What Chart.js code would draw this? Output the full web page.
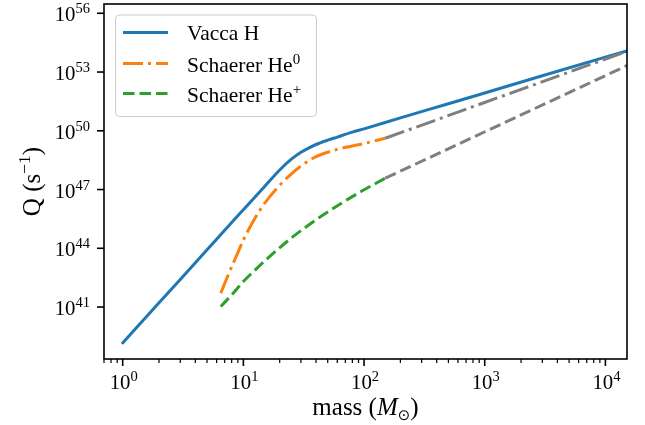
<!DOCTYPE html>
<html>
<head>
<meta charset="utf-8">
<script src="https://cdn.jsdelivr.net/npm/chart.js@4.4.0/dist/chart.umd.min.js"></script>
<style>
  html, body { margin: 0; padding: 0; background: #fff; }
  #wrap { width: 645px; height: 425px; }
</style>
</head>
<body>
<div id="wrap"><canvas id="chart" width="645" height="425"></canvas></div>
<script>
// values, Q kept as log10(Q)
var massVacca = [1, 2, 3, 5, 7, 10, 15, 20, 25, 30, 35, 40, 50, 60, 80, 100, 200, 500, 1000, 3000, 10000, 15100];
var logQVacca = [39.17, 41.22, 42.41, 43.92, 44.92, 45.97, 47.16, 48.0, 48.55, 48.9, 49.13, 49.3, 49.52, 49.68, 49.93, 50.1, 50.66, 51.38, 51.93, 52.81, 53.76, 54.08];

var massHe0 = [6.5, 7.5, 9, 10, 12, 15, 20, 25, 30, 40, 60, 100, 150];
var logQHe0 = [41.71, 42.65, 43.78, 44.42, 45.35, 46.3, 47.22, 47.8, 48.2, 48.68, 49.05, 49.35, 49.62];

var massHeP = [6.5, 8, 10, 13, 17, 25, 32, 45, 65, 95, 150];
var logQHeP = [41.03, 41.62, 42.3, 42.99, 43.65, 44.53, 45.03, 45.67, 46.3, 46.91, 47.58];

// grey extensions past 150 Msun
var massExt = [150, 15100];
var logQExtHe0 = [49.62, 54.06];
var logQExtHeP = [47.58, 53.33];

var seriesNames = ['Vacca H', 'Schaerer He', 'Schaerer He'];
var seriesSup = ['', '0', '+'];

var xTickExps = [0, 1, 2, 3, 4];
var yTickExps = [41, 44, 47, 50, 53, 56];

var BLUE = '#1f77b4', ORANGE = '#ff7f0e', GREEN = '#2ca02c', GREY = '#7f7f7f';
var DASHDOT = [20, 5, 3, 5];
var DASHED = [11.5, 5];
var F = '20.8px "Liberation Serif"';
var FS = '14.5px "Liberation Serif"';
var FL = '21.5px "Liberation Serif"';
var FLS = '15px "Liberation Serif"';
var FT = '25px "Liberation Serif"';
var FTS = '17.5px "Liberation Serif"';

function pts(m, q) {
  return m.map(function (v, i) { return { x: v, y: Math.pow(10, q[i]) }; });
}

function drawPieces(ctx, pieces, x, y, align) {
  var total = 0;
  pieces.forEach(function (p) { ctx.font = p[1]; total += ctx.measureText(p[0]).width; });
  var cx = align === 'right' ? x - total : (align === 'center' ? x - total / 2 : x);
  pieces.forEach(function (p) {
    ctx.font = p[1];
    ctx.fillText(p[0], cx, y + p[2]);
    cx += ctx.measureText(p[0]).width;
  });
}

var axesPlugin = {
  id: 'axesPlugin',
  afterDatasetsDraw: function (chart) {
    var ctx = chart.ctx, a = chart.chartArea;
    var xs = chart.scales.x, ys = chart.scales.y;
    ctx.save();
    ctx.fillStyle = '#000';
    ctx.strokeStyle = '#000';
    ctx.textAlign = 'left';
    ctx.textBaseline = 'alphabetic';

    // frame
    ctx.lineWidth = 1.6;
    ctx.strokeRect(a.left, a.top, a.right - a.left, a.bottom - a.top);

    // x ticks
    xTickExps.forEach(function (e) {
      var px = xs.getPixelForValue(Math.pow(10, e));
      ctx.lineWidth = 1.6;
      ctx.beginPath(); ctx.moveTo(px, a.bottom); ctx.lineTo(px, a.bottom + 7); ctx.stroke();
      drawPieces(ctx, [['10', F, 0], [String(e), FS, -8]], px + 1, a.bottom + 30, 'center');
    });
    ctx.lineWidth = 1.2;
    for (var d = -1; d <= 4; d++) {
      for (var k = 2; k <= 9; k++) {
        var v = k * Math.pow(10, d);
        if (v < xs.min || v > xs.max) continue;
        var px = xs.getPixelForValue(v);
        ctx.beginPath(); ctx.moveTo(px, a.bottom); ctx.lineTo(px, a.bottom + 4); ctx.stroke();
      }
    }

    // y ticks
    yTickExps.forEach(function (e) {
      var py = ys.getPixelForValue(Math.pow(10, e));
      ctx.lineWidth = 1.6;
      ctx.beginPath(); ctx.moveTo(a.left - 7, py); ctx.lineTo(a.left, py); ctx.stroke();
      drawPieces(ctx, [['10', F, 0], [String(e), FS, -8]], a.left - 14, py + 8, 'right');
    });

    // axis titles
    drawPieces(ctx, [['mass (', FT, 0], ['M', 'italic ' + FT, 0],
      ['\u2299', '15px "DejaVu Sans"', 5], [')', FT, 0]], (a.left + a.right) / 2, 415, 'center');
    ctx.save();
    ctx.translate(40, (a.top + a.bottom) / 2);
    ctx.rotate(-Math.PI / 2);
    drawPieces(ctx, [['Q (s', FT, 0], ['\u22121', FTS, -10], [')', FT, 0]], 0, 0, 'center');
    ctx.restore();

    // legend
    ctx.beginPath();
    ctx.roundRect(115.5, 15, 201, 101.5, 4);
    ctx.fillStyle = 'rgba(255,255,255,0.8)';
    ctx.fill();
    ctx.strokeStyle = '#cccccc';
    ctx.lineWidth = 1;
    ctx.stroke();
    var rows = [32.5, 63.5, 93.5];
    var styles = [[BLUE, []], [ORANGE, DASHDOT], [GREEN, DASHED]];
    rows.forEach(function (ry, i) {
      ctx.strokeStyle = styles[i][0];
      ctx.lineWidth = 3;
      ctx.setLineDash(styles[i][1]);
      ctx.beginPath(); ctx.moveTo(123, ry); ctx.lineTo(168, ry); ctx.stroke();
      ctx.setLineDash([]);
      ctx.fillStyle = '#000';
      var pieces = [[seriesNames[i], FL, 0]];
      if (seriesSup[i]) pieces.push([seriesSup[i], FLS, -8.5]);
      drawPieces(ctx, pieces, 187, ry + (i === 0 ? 7.5 : 8.5), 'left');
    });
    ctx.restore();
  }
};

function line(label, data, color, dash, order) {
  return {
    label: label,
    data: data,
    borderColor: color,
    borderWidth: 3,
    borderDash: dash,
    borderCapStyle: dash.length ? 'butt' : 'round',
    pointRadius: 0,
    fill: false,
    cubicInterpolationMode: 'monotone',
    order: order
  };
}

var ctx = document.getElementById('chart').getContext('2d');
new Chart(ctx, {
  type: 'line',
  data: {
    datasets: [
      line('ext He0', pts(massExt, logQExtHe0), GREY, DASHDOT, 0),
      line('ext He+', pts(massExt, logQExtHeP), GREY, DASHED, 0),
      line('Schaerer He0', pts(massHe0, logQHe0), ORANGE, DASHDOT, 1),
      line('Schaerer He+', pts(massHeP, logQHeP), GREEN, DASHED, 1),
      line('Vacca H', pts(massVacca, logQVacca), BLUE, [], 2)
    ]
  },
  options: {
    responsive: false,
    animation: false,
    events: [],
    layout: { padding: { left: 104, right: 18, top: 4, bottom: 66 } },
    plugins: { legend: { display: false }, tooltip: { enabled: false } },
    scales: {
      x: { type: 'logarithmic', display: false, min: 0.7036, max: 15100 },
      y: { type: 'logarithmic', display: false, min: Math.pow(10, 38.347), max: Math.pow(10, 56.474) }
    }
  },
  plugins: [axesPlugin]
});
</script>
</body>
</html>
